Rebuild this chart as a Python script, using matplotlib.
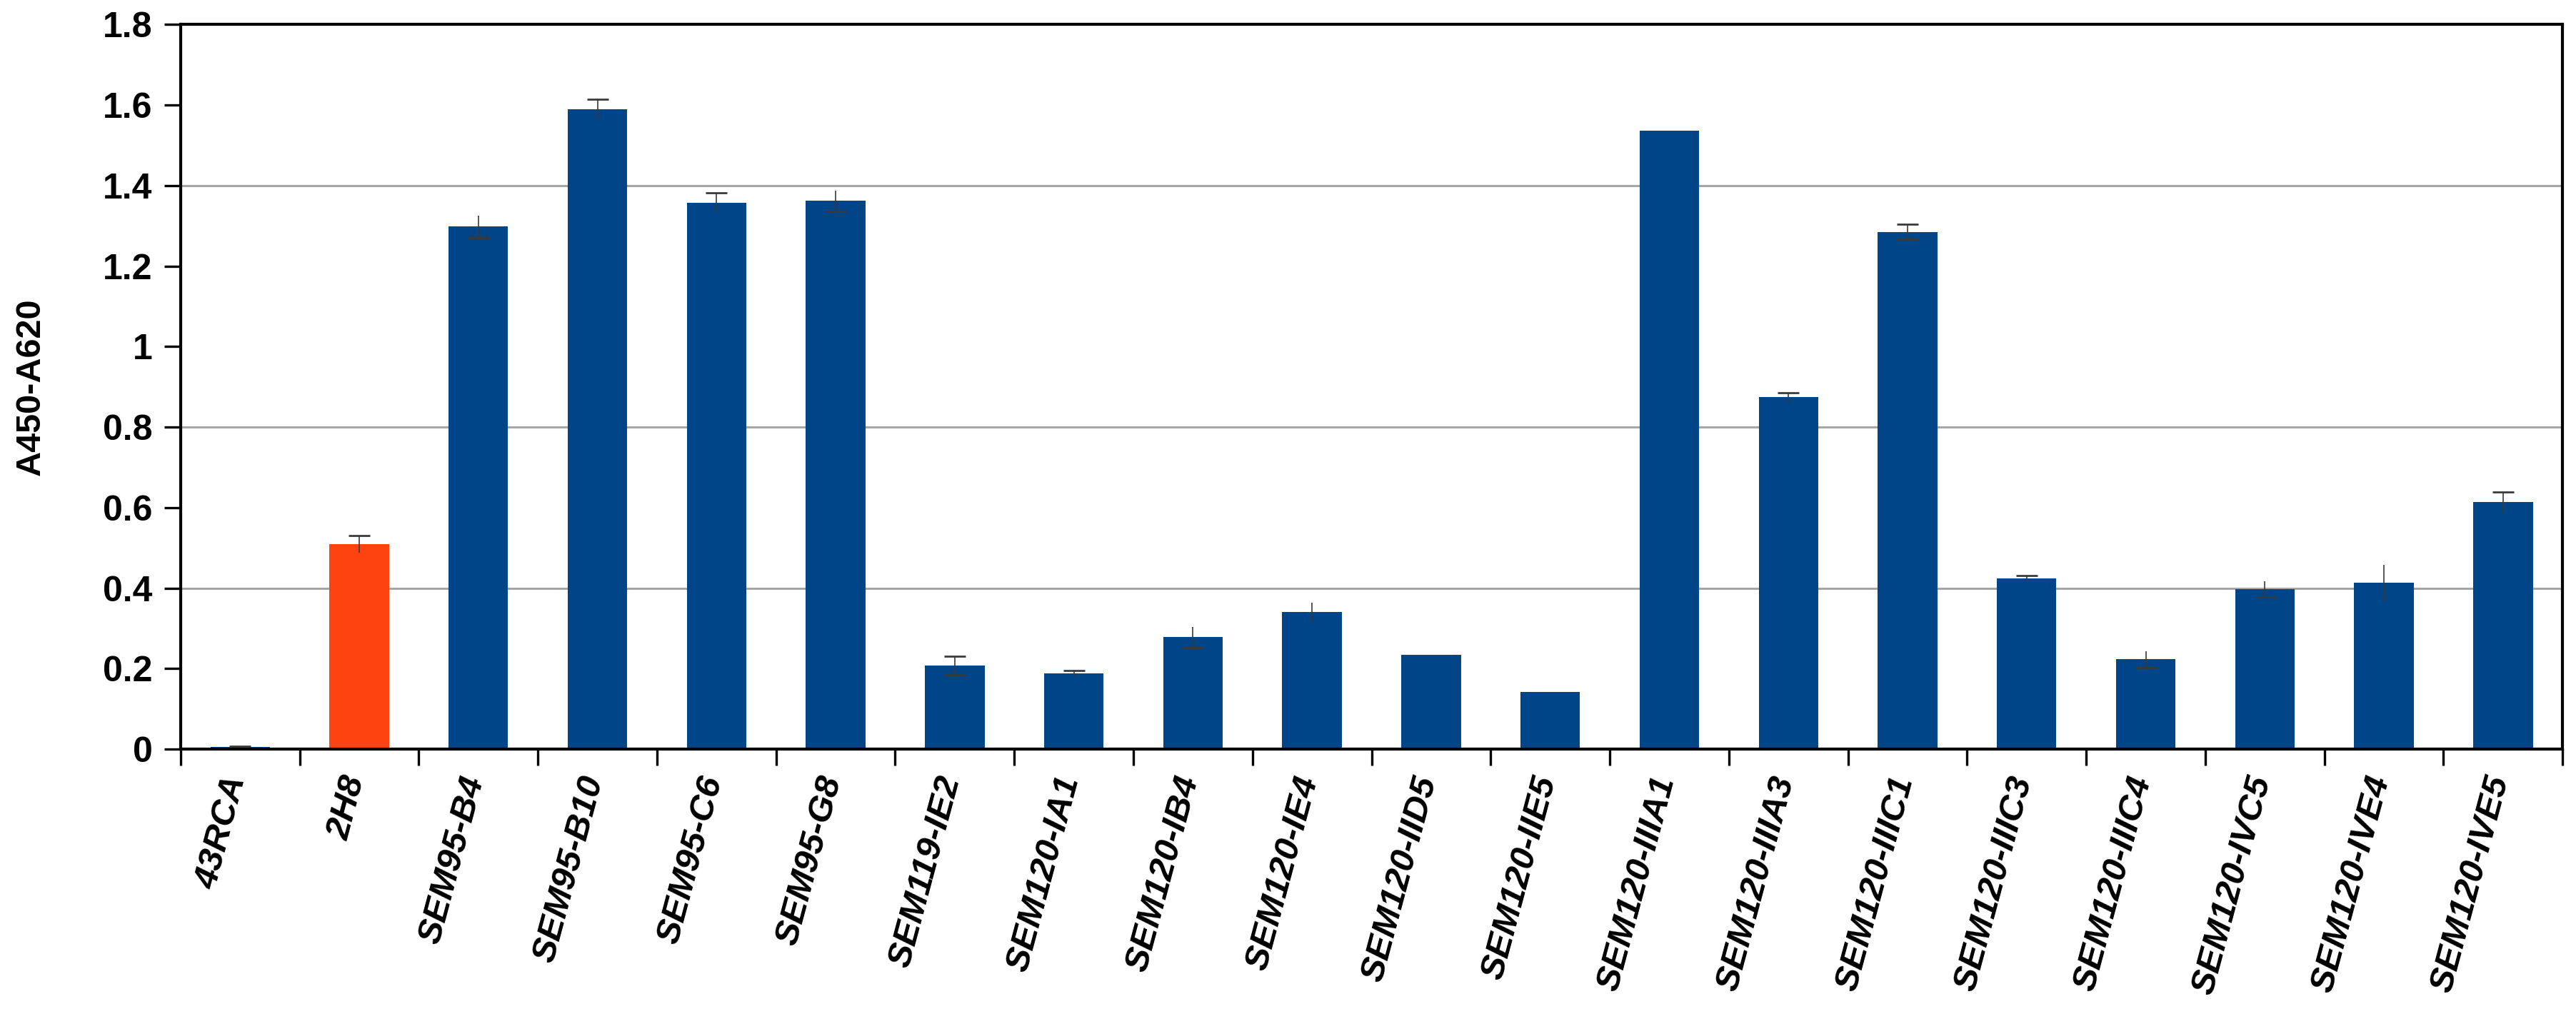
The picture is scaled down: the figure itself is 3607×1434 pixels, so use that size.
import numpy as np
import matplotlib.pyplot as plt
import matplotlib.transforms as mtransforms

# data
clones = ["43RCA", "2H8", "SEM95-B4", "SEM95-B10", "SEM95-C6", "SEM95-G8",
          "SEM119-IE2", "SEM120-IA1", "SEM120-IB4", "SEM120-IE4", "SEM120-IID5",
          "SEM120-IIE5", "SEM120-IIIA1", "SEM120-IIIA3", "SEM120-IIIC1",
          "SEM120-IIIC3", "SEM120-IIIC4", "SEM120-IVC5", "SEM120-IVE4", "SEM120-IVE5"]
absorbance = [0.005, 0.509, 1.298, 1.590, 1.358, 1.362,
              0.208, 0.188, 0.278, 0.340, 0.234,
              0.142, 1.537, 0.874, 1.285,
              0.424, 0.223, 0.397, 0.413, 0.613]
errors = [0.002, 0.021, 0.027, 0.025, 0.024, 0.026,
          0.023, 0.007, 0.026, 0.024, 0.0,
          0.0, 0.0, 0.012, 0.019,
          0.007, 0.020, 0.020, 0.045, 0.025]
# which end of each error bar carries a cap in the original
caps = ["top", "top", "bottom", "top", "top", "bottom",
        "both", "top", "bottom", "none", "none",
        "none", "none", "top", "both",
        "top", "bottom", "bottom", "none", "top"]
highlight = "2H8"
gridlines = [0.4, 0.8, 1.4]
yticks = [0, 0.2, 0.4, 0.6, 0.8, 1.0, 1.2, 1.4, 1.6, 1.8]
ytick_labels = ["0", "0.2", "0.4", "0.6", "0.8", "1", "1.2", "1.4", "1.6", "1.8"]

BLUE = "#004587"
ORANGE = "#FF4310"


def PlotELISA():
    plt.rcParams["font.family"] = ["Liberation Sans", "DejaVu Sans"]
    fig = plt.figure(figsize=(36.07, 14.34), dpi=100)
    ax = fig.add_axes([0.0701, 0.2685, 0.9247, 0.7075])

    x = np.arange(len(clones))
    colors = [ORANGE if c == highlight else BLUE for c in clones]

    for g in gridlines:
        ax.axhline(g, color="#a6a6a6", linewidth=2.2, zorder=0)

    ax.bar(x, absorbance, width=0.5, color=colors, zorder=2)

    vals = np.array(absorbance)
    errs = np.array(errors)
    ax.errorbar(x, vals, yerr=errs, fmt="none", ecolor="#3a3a3a",
                elinewidth=1.2, capsize=0, zorder=3)
    for xi, v, e, c in zip(x, vals, errs, caps):
        ends = []
        if c in ("top", "both"):
            ends.append(v + e)
        if c in ("bottom", "both"):
            ends.append(v - e)
        if ends:
            ax.plot([xi] * len(ends), ends, linestyle="none", marker="_",
                    markersize=21, markeredgewidth=2.0, color="#3a3a3a", zorder=4)

    ax.set_xlim(-0.5, len(clones) - 0.5)
    ax.set_ylim(0, 1.8)

    # ticks between categories, labels at category centres
    ax.set_xticks(np.arange(-0.5, len(clones), 1.0))
    ax.set_xticklabels([])
    ax.set_xticks(x, minor=True)
    ax.set_xticklabels(clones, minor=True, rotation=75, ha="right", va="center",
                       rotation_mode="anchor", fontsize=35.5, fontweight="bold",
                       fontstyle="italic")
    ax.tick_params(axis="x", which="major", direction="out", length=16.5, width=2.4)
    ax.tick_params(axis="x", which="minor", length=0, pad=28)
    shift = mtransforms.ScaledTranslation(-0.05, 0, fig.dpi_scale_trans)
    for lab in ax.get_xticklabels(minor=True):
        lab.set_transform(lab.get_transform() + shift)

    ax.set_yticks(yticks)
    ax.set_yticklabels(ytick_labels, fontsize=36, fontweight="bold")
    ax.tick_params(axis="y", direction="out", length=16.5, width=2.4, pad=12)

    for s in ax.spines.values():
        s.set_linewidth(3.0)
        s.set_color("black")

    ax.set_ylabel("A450-A620", fontsize=35, fontweight="bold")
    ax.yaxis.set_label_coords(-0.056, 0.5)

    fig.savefig("out.png", dpi=100)


if __name__ == "__main__":
    PlotELISA()
